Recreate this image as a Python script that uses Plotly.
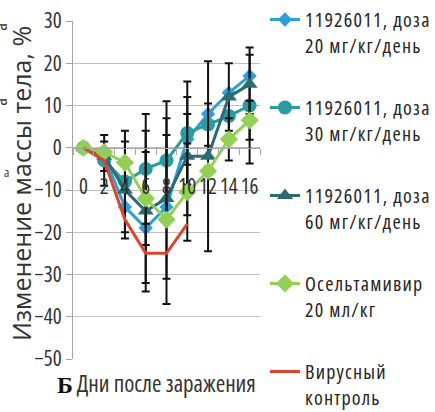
import plotly.graph_objects as go

days = ["0", "2", "4", "6", "8", "10", "12", "14", "16"]

s20 = [0, -2, -14, -19, -14, 2, 8, 13, 17]
s30 = [0, -3, -8, -5, -3, 3.5, 5.5, 7.5, 10]
s60 = [0, -2, -10, -15, -12, -2, -2, 12, 15]
osel = [0, -1, -3.5, -12, -17, -10.5, -5.5, 2, 6.5]
virus = [0, -3, -17, -25, -25, -18]

# error bars (symmetric), None = no bar
err20 = [None, 3.5, None, 13, None, 6, None, None, None]
err30 = [None, 6, 12, 13, 14, 12.2, 5, None, 13.7]
err60 = [None, None, 11.5, 19, 19, 14, 22.5, 8, 7]
errosel = [None, None, None, 11, 20, 11.5, None, 5, 4.6]

names = [
    "11926011, доза<br>20 мг/кг/день",
    "11926011, доза<br>30 мг/кг/день",
    "11926011, доза<br>60 мг/кг/день",
    "Осельтамивир<br>20 мл/кг",
    "Вирусный<br>контроль",
]

W, H = 435, 412
L, R, T, B = 73, 175, 21, 53
PW, PH = W - L - R, H - T - B


def xp(px):
    return (px - L) / PW


def yp(py):
    return (H - B - py) / PH


NARROW = "Open Sans, sans-serif"

fig = go.Figure()


def eb(arr):
    return dict(type="data", array=arr, visible=True, color="#111111",
                thickness=2, width=4)


fig.add_trace(go.Scatter(x=days, y=s20, name=names[0], legendgroup="a",
                         mode="lines+markers",
                         line=dict(color="#2E9FD9", width=3),
                         marker=dict(symbol="diamond", size=11, color="#2E9FD9"),
                         error_y=eb(err20)))
fig.add_trace(go.Scatter(x=days, y=s30, name=names[1], legendgroup="b",
                         mode="lines+markers",
                         line=dict(color="#2A9BA3", width=3),
                         marker=dict(symbol="circle", size=14, color="#2A9BA3"),
                         error_y=eb(err30)))
fig.add_trace(go.Scatter(x=days, y=s60, name=names[2], legendgroup="c",
                         mode="lines+markers",
                         line=dict(color="#2C6B72", width=3),
                         marker=dict(symbol="triangle-up", size=14, color="#2C6B72"),
                         error_y=eb(err60)))
fig.add_trace(go.Scatter(x=days, y=osel, name=names[3], legendgroup="d",
                         mode="lines+markers",
                         line=dict(color="#92CF55", width=3),
                         marker=dict(symbol="diamond", size=14, color="#92CF55"),
                         error_y=eb(errosel)))
fig.add_trace(go.Scatter(x=days[:len(virus)], y=virus, name=names[4], legendgroup="e",
                         mode="lines",
                         line=dict(color="#DD4430", width=3)))

fig.update_layout(
    width=W, height=H,
    margin=dict(l=L, r=R, t=T, b=B, autoexpand=False),
    paper_bgcolor="white", plot_bgcolor="white",
    font=dict(family=NARROW, size=20, color="#333333"),
    showlegend=True,
    legend=dict(x=xp(265), xanchor="left", y=yp(0), yanchor="top",
                font=dict(family=NARROW, size=20, color="#262626"),
                tracegroupgap=33, valign="top", bgcolor="rgba(0,0,0,0)",
                traceorder="grouped", maxheight=440),
    xaxis=dict(type="category", categoryorder="array", categoryarray=days,
               range=[-0.5, 8.5], tickmode="linear", tick0=0, dtick=1,
               anchor="free", position=50 / 80,
               showline=True, linecolor="#A6A6A6", linewidth=1.3,
               ticks="outside", ticklen=6, tickcolor="#A6A6A6", tickson="boundaries",
               showgrid=False, zeroline=False, ticklabelstandoff=20, tickangle=0,
               tickfont=dict(family=NARROW, size=21, color="#333333")),
    yaxis=dict(range=[-50, 30], dtick=10, showgrid=True, gridcolor="#C0C0C0", gridwidth=1.3,
               zeroline=False, showline=True, linecolor="#A6A6A6", linewidth=1.3,
               ticks="outside", ticklen=6, tickcolor="#A6A6A6",
               tickfont=dict(family=NARROW, size=21, color="#333333")),
)


def ann(text, x, y, size, family=NARROW, angle=0, color="#333333"):
    fig.add_annotation(text=text, xref="paper", yref="paper", x=xp(x), y=yp(y),
                       xanchor="center", yanchor="middle", textangle=angle,
                       showarrow=False, font=dict(family=family, size=size, color=color))


ann("Изменение массы тела, %", 21, 184, 25, family="Open Sans, sans-serif", angle=-90)
ann("Дни после заражения", 166, 383, 23)
ann("<b>Б</b>", 65, 385, 24, family="Liberation Serif, DejaVu Serif, serif", color="#111111")
# fragments of a neighbouring panel, cut by the left edge
ann("а", 0, 27, 19, angle=-90)
ann("а", 0, 102, 19, angle=-90)
ann("а", 6, 172, 13)

post = """
document.body.style.margin = '0';
document.querySelectorAll('svg text').forEach(function(t){
  var c = t.textContent;
  if (c.indexOf('Изменение') < 0 && c !== 'Б') {
    if (t.closest('.legend')) {
      t.style.fontStretch = '85%';
      t.style.letterSpacing = '1.2px';
    } else {
      t.style.fontStretch = '80%';
    }
  }
});
"""

fig.write_html("out.html", post_script=post, config={"displayModeBar": False})
